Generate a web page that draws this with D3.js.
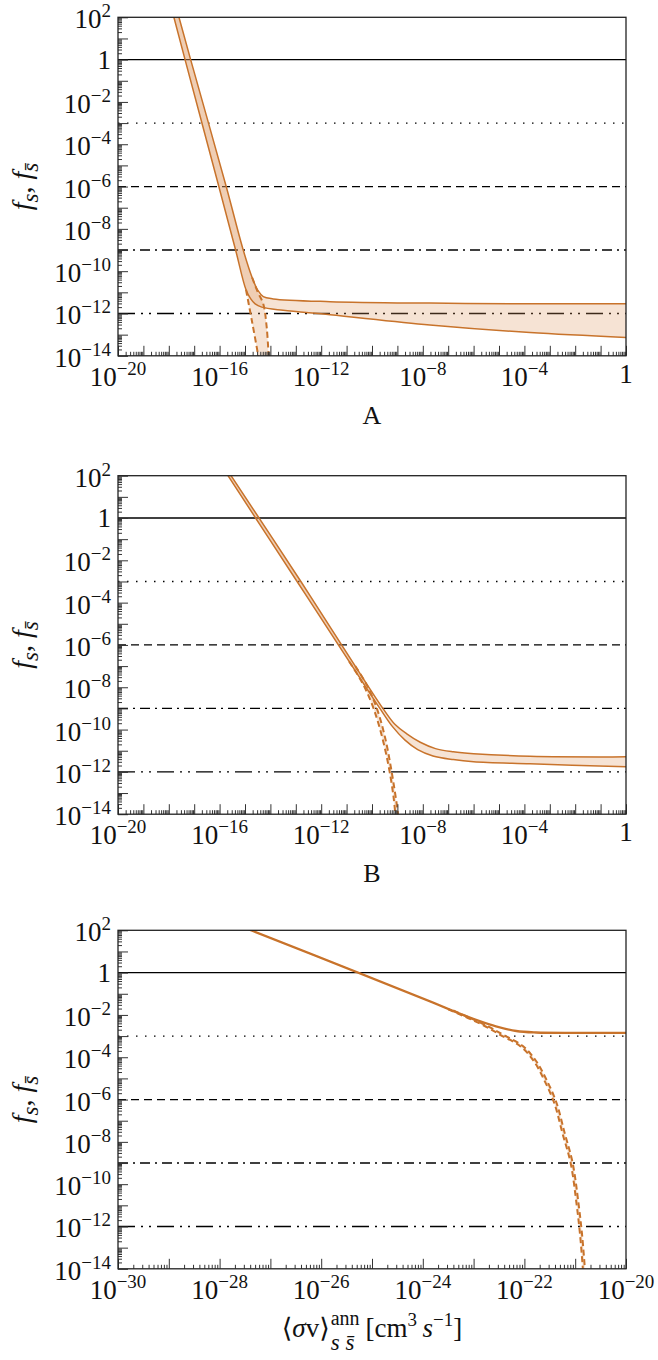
<!DOCTYPE html>
<html>
<head>
<meta charset="utf-8">
<script src="https://cdn.jsdelivr.net/npm/d3@7"></script>
<style>
  body { margin: 0; background: #fff; }
  svg text { font-family: "Liberation Serif", "DejaVu Serif", serif; fill: #111; }
</style>
</head>
<body>
<div id="chart"></div>
<script>
// all values are log10 exponents: [log10 <sigma v>, log10 f]
const refLevels = [0, -3, -6, -9, -12];
const yLabels = [2, 0, -2, -4, -6, -8, -10, -12, -14];

const aUpper = [[-17.83,3],[-17.60,2],[-17.14,0],[-15.74,-6],[-15.07,-9],[-14.72,-10.3],[-14.5,-10.9],
  [-14.28,-11.2],[-13.89,-11.31],[-11.65,-11.44],[-7.72,-11.51],[-3.78,-11.54],[0,-11.54]];
const aLower = [[-18.02,3],[-17.80,2],[-17.36,0],[-16.03,-6],[-15.37,-9],[-14.96,-10.88],[-14.78,-11.3],
  [-14.6,-11.55],[-14.34,-11.7],[-13.5,-11.85],[-11.65,-12.06],[-7.72,-12.54],[-3.78,-12.9],[0,-13.13]];
const aDashUpper = [[-14.72,-10.3],[-14.5,-10.98],[-14.28,-11.55],[-14.15,-12.6],[-14.07,-13.95],[-14.04,-14.5]];
const aDashLower = [[-14.96,-10.88],[-14.72,-12.4],[-14.48,-14.0],[-14.42,-14.5]];

const bUpper = [[-15.93,2.7],[-15.55,2],[-12.8,-3],[-10.66,-7],[-9.57,-9],[-9.1,-9.75],[-8.63,-10.2],
  [-8.1,-10.6],[-7.5,-10.9],[-6.8,-11.05],[-6.0,-11.14],[-3.78,-11.26],[0,-11.29]];
const bLower = [[-16.05,2.7],[-15.67,2],[-12.95,-3],[-10.78,-7],[-9.69,-9],[-9.2,-9.85],[-8.7,-10.5],
  [-8.2,-10.95],[-7.6,-11.25],[-6.8,-11.42],[-6.0,-11.52],[-3.78,-11.62],[0,-11.76]];
const bDashUpper = [[-10.66,-7],[-10.2,-7.9],[-9.81,-9.0],[-9.49,-10.35],[-9.22,-12.04],[-8.98,-13.93],[-8.93,-14.5]];
const bDashLower = [[-10.9,-6.78],[-10.4,-7.75],[-10.05,-8.65],[-9.75,-9.7],[-9.4,-11.4],[-9.15,-13.2],[-9.05,-14.5]];

const cUpper = [[-27.8,2.42],[-27.36,2],[-25.25,0],[-23.87,-1.33],[-23.21,-1.98],[-22.85,-2.3],[-22.56,-2.52],
  [-22.16,-2.74],[-21.77,-2.81],[-21.0,-2.83],[-20,-2.83]];
const cLower = [[-27.8,2.38],[-27.36,1.96],[-25.25,-0.04],[-23.87,-1.37],[-23.21,-2.02],[-22.85,-2.34],[-22.56,-2.56],
  [-22.16,-2.78],[-21.77,-2.85],[-21.0,-2.87],[-20,-2.87]];
const cDashUpper = [[-23.4,-1.79],[-22.75,-2.5],[-22.43,-2.92],[-22.03,-3.47],[-21.77,-4.18],[-21.57,-5.04],
  [-21.37,-6.14],[-21.21,-7.56],[-21.05,-9.0],[-20.93,-11.0],[-20.86,-12.5],[-20.8,-14.3]];
const cDashLower = [[-23.5,-1.73],[-22.8,-2.5],[-22.47,-2.95],[-22.07,-3.5],[-21.81,-4.2],[-21.61,-5.08],
  [-21.41,-6.18],[-21.25,-7.6],[-21.09,-9.0],[-20.97,-11.0],[-20.9,-12.5],[-20.84,-14.3]];

const panels = [
  {name: "A", xDomain: [-20, 0], xLabels: [-20,-16,-12,-8,-4,0], upper: aUpper, lower: aLower, dashUpper: aDashUpper, dashLower: aDashLower},
  {name: "B", xDomain: [-20, 0], xLabels: [-20,-16,-12,-8,-4,0], upper: bUpper, lower: bLower, dashUpper: bDashUpper, dashLower: bDashLower},
  {name: "", xDomain: [-30, -20], xLabels: [-30,-28,-26,-24,-22,-20], upper: cUpper, lower: cLower, dashUpper: cDashUpper, dashLower: cDashLower}
];

var width = 658, height = 1360;
var left = 118, plotW = 508, plotH = 338.5;
var tops = [17.3, 475.7, 930.3];
var refDash = ["", "1.5,7.5", "8,5", "10,5,2,5", "17,6,2,6,2,6"];
var lineColor = "#c8732b", fillColor = "rgba(222,150,95,0.27)";
var fs = 27, fsSup = 19;

var svg = d3.select('#chart').append('svg')
  .attr('width', width).attr('height', height);

var y = d3.scaleLog().domain([1e-14, 1e2]).range([plotH, 0]);

function powLabel(sel, e) {
  if (e === 0) { sel.text("1"); return; }
  sel.append('tspan').text("10");
  sel.append('tspan').attr('dy', -11).attr('font-size', fsSup)
    .text(e < 0 ? "\u2212" + (-e) : String(e));
}

panels.forEach(function(p, i) {
  var g = svg.append('g').attr('transform', 'translate(' + left + ',' + tops[i] + ')');
  var x = d3.scaleLog().domain(p.xDomain.map(e => Math.pow(10, e))).range([0, plotW]);

  var line = d3.line()
    .x(d => x(Math.pow(10, d[0])))
    .y(d => y(Math.pow(10, d[1])))
    .curve(d3.curveCatmullRom.alpha(0.5));
  var band = function(up, lo) {
    return line(up) + 'L' + line(lo.slice().reverse()).slice(1) + 'Z';
  };

  g.append('clipPath').attr('id', 'clip' + i)
    .append('rect').attr('width', plotW).attr('height', plotH);

  // reference levels
  g.selectAll('.ref').data(refLevels).enter().append('line')
    .attr('class', 'ref')
    .attr('x1', 0).attr('x2', plotW)
    .attr('y1', d => y(Math.pow(10, d))).attr('y2', d => y(Math.pow(10, d)))
    .attr('stroke', '#000').attr('stroke-width', 1.3)
    .attr('stroke-dasharray', (d, k) => refDash[k]);

  var curves = g.append('g').attr('clip-path', 'url(#clip' + i + ')');

  // dashed band follows the solid curves until it splits off
  var dUp = p.upper.filter(d => d[0] < p.dashUpper[0][0]).concat(p.dashUpper);
  var dLo = p.lower.filter(d => d[0] < p.dashLower[0][0]).concat(p.dashLower);

  curves.append('path').attr('d', band(dUp, dLo)).attr('fill', fillColor);
  curves.append('path').attr('d', band(p.upper, p.lower)).attr('fill', fillColor);

  [p.upper, p.lower].forEach(function(c) {
    curves.append('path').attr('d', line(c))
      .attr('fill', 'none').attr('stroke', lineColor).attr('stroke-width', 1.5);
  });
  [p.dashUpper, p.dashLower].forEach(function(c) {
    curves.append('path').attr('d', line(c))
      .attr('fill', 'none').attr('stroke', lineColor).attr('stroke-width', 2)
      .attr('stroke-dasharray', '6,3.5');
  });

  // ticks
  var decX = d3.range(p.xDomain[0], p.xDomain[1] + 1).map(e => Math.pow(10, e));
  var minX = [];
  d3.range(p.xDomain[0], p.xDomain[1]).forEach(function(e) {
    for (var m = 2; m <= 9; m++) minX.push(m * Math.pow(10, e));
  });
  var decY = d3.range(-14, 3).map(e => Math.pow(10, e));
  var minY = [];
  d3.range(-14, 2).forEach(function(e) {
    for (var m = 2; m <= 9; m++) minY.push(m * Math.pow(10, e));
  });

  var axes = [
    [d3.axisBottom(x).tickValues(minX).tickSize(-4), true],
    [d3.axisBottom(x).tickValues(decX).tickSize(-10), true],
    [d3.axisLeft(y).tickValues(minY).tickSize(-4), false],
    [d3.axisLeft(y).tickValues(decY).tickSize(-10), false]
  ];
  axes.forEach(function(a) {
    var ag = g.append('g')
      .attr('transform', a[1] ? 'translate(0,' + plotH + ')' : null)
      .call(a[0].tickSizeOuter(0).tickFormat(''));
    ag.select('.domain').remove();
    ag.selectAll('line').attr('stroke', '#333').attr('stroke-width', 1);
  });

  g.append('rect').attr('width', plotW).attr('height', plotH)
    .attr('fill', 'none').attr('stroke', '#222').attr('stroke-width', 1.3);

  // tick labels
  p.xLabels.forEach(function(e) {
    var t = g.append('text')
      .attr('x', x(Math.pow(10, e)))
      .attr('y', plotH + (e === 0 ? 27 : 30))
      .attr('text-anchor', 'middle').attr('font-size', fs);
    powLabel(t, e);
  });
  yLabels.forEach(function(e) {
    var t = g.append('text')
      .attr('x', -7)
      .attr('y', y(Math.pow(10, e)) + (e === 0 ? 9 : 11))
      .attr('text-anchor', 'end').attr('font-size', fs);
    powLabel(t, e);
  });

  // y title
  var yt = g.append('text')
    .attr('transform', 'translate(' + (31 - left) + ',' + (plotH / 2) + ') rotate(-90)')
    .attr('text-anchor', 'middle').attr('font-size', 28);
  yt.append('tspan').attr('font-style', 'italic').text('f');
  yt.append('tspan').attr('font-style', 'italic').attr('font-size', 23).attr('dy', 7).text('s');
  yt.append('tspan').attr('dy', -7).text(', ');
  yt.append('tspan').attr('font-style', 'italic').text('f');
  yt.append('tspan').attr('font-style', 'italic').attr('font-size', 23).attr('dy', 7).text('s\u0304');

  if (p.name) {
    g.append('text').attr('x', plotW / 2).attr('y', plotH + 68)
      .attr('text-anchor', 'middle').attr('font-size', 26).text(p.name);
  }
});

// x title of the last panel
var tg = svg.append('g');
var t1 = tg.append('text').attr('font-size', fs);
t1.append('tspan').text('\u27E8');
t1.append('tspan').attr('font-style', 'italic').text('\u03C3');
t1.append('tspan').text('v\u27E9');
var w1 = t1.node().getComputedTextLength();
var sup = tg.append('text').attr('x', w1 + 1).attr('y', -12).attr('font-size', 20).text('ann');
var sub = tg.append('text').attr('x', w1 + 1).attr('y', 13).attr('font-size', 23)
  .attr('font-style', 'italic').text('s s\u0304');
var w2 = w1 + 1 + Math.max(sup.node().getComputedTextLength(), sub.node().getComputedTextLength());
var t3 = tg.append('text').attr('x', w2 + 6).attr('font-size', fs);
t3.append('tspan').text('[cm');
t3.append('tspan').attr('dy', -11).attr('font-size', fsSup).text('3');
t3.append('tspan').attr('dy', 11).text('\u2009');
t3.append('tspan').attr('font-style', 'italic').text('s');
t3.append('tspan').attr('dy', -11).attr('font-size', fsSup).text('\u22121');
t3.append('tspan').attr('dy', 11).text(']');
var wt = w2 + 6 + t3.node().getComputedTextLength();
tg.attr('transform', 'translate(' + (left + plotW / 2 - wt / 2) + ',' + (tops[2] + plotH + 68) + ')');
</script>
</body>
</html>
